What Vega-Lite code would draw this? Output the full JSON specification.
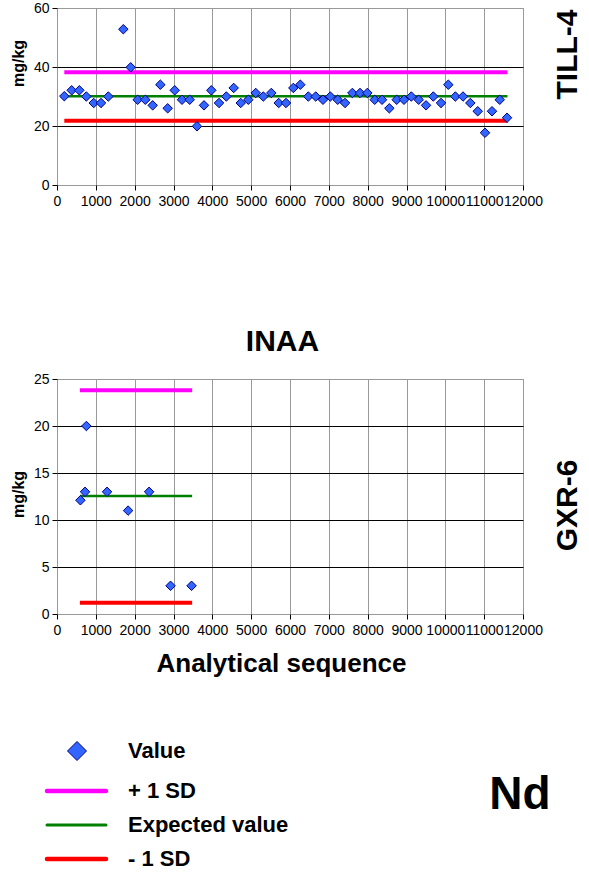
{
  "$schema": "https://vega.github.io/schema/vega-lite/v6.json",
  "padding": {"left": 9, "top": 0, "right": 0, "bottom": 0},
  "background": "white",
  "spacing": 14,
  "config": {
    "font": "Liberation Sans",
    "view": {"stroke": "#999", "strokeWidth": 1},
    "axis": {
      "labelFont": "Liberation Sans", "labelFontSize": 14, "labelColor": "#000",
      "tickColor": "#000", "tickSize": 5, "domain": false,
      "titleFont": "Liberation Sans", "titleFontWeight": "bold", "titleColor": "#000"
    }
  },
  "datasets": {
    "till4": [
      {"x":188,"v":30.1},{"x":378,"v":32.1},{"x":575,"v":32.1},{"x":755,"v":30},{"x":945,"v":27.8},{"x":1133,"v":27.8},{"x":1322,"v":30},{"x":1708,"v":52.8},{"x":1897,"v":39.9},{"x":2077,"v":28.9},{"x":2274,"v":28.9},{"x":2464,"v":27},{"x":2661,"v":34},{"x":2850,"v":26},{"x":3031,"v":32.1},{"x":3219,"v":28.9},{"x":3417,"v":28.9},{"x":3605,"v":19.9},{"x":3786,"v":27},{"x":3974,"v":32.1},{"x":4172,"v":27.8},{"x":4360,"v":30},{"x":4550,"v":32.9},{"x":4731,"v":27.8},{"x":4927,"v":28.9},{"x":5117,"v":31.2},{"x":5313,"v":30},{"x":5519,"v":31.2},{"x":5709,"v":27.8},{"x":5897,"v":27.8},{"x":6086,"v":32.9},{"x":6266,"v":34},{"x":6472,"v":30},{"x":6662,"v":30},{"x":6850,"v":28.9},{"x":7038,"v":30},{"x":7229,"v":28.9},{"x":7417,"v":27.8},{"x":7606,"v":31.2},{"x":7803,"v":31.2},{"x":7991,"v":31.2},{"x":8182,"v":28.9},{"x":8370,"v":28.9},{"x":8558,"v":26},{"x":8748,"v":28.9},{"x":8936,"v":28.9},{"x":9124,"v":30},{"x":9315,"v":28.9},{"x":9503,"v":27},{"x":9691,"v":30},{"x":9889,"v":27.8},{"x":10077,"v":34},{"x":10258,"v":30},{"x":10456,"v":30},{"x":10644,"v":27.8},{"x":10834,"v":25},{"x":11022,"v":17.7},{"x":11202,"v":25},{"x":11401,"v":28.9},{"x":11589,"v":22.8}
    ],
    "gxr6": [
      {"x":603,"v":12.1},{"x":722,"v":13},{"x":757,"v":20},{"x":1289,"v":13},{"x":1831,"v":11},{"x":2372,"v":13},{"x":2924,"v":3},{"x":3465,"v":3}
    ],
    "lines": [
      {"panel":"TILL-4","series":"+ 1 SD","x":188,"x2":11600,"v":38.2},
      {"panel":"TILL-4","series":"Expected value","x":188,"x2":11600,"v":30.1},
      {"panel":"TILL-4","series":"- 1 SD","x":188,"x2":11600,"v":21.8},
      {"panel":"GXR-6","series":"+ 1 SD","x":590,"x2":3480,"v":23.8},
      {"panel":"GXR-6","series":"Expected value","x":590,"x2":3480,"v":12.55},
      {"panel":"GXR-6","series":"- 1 SD","x":590,"x2":3480,"v":1.2}
    ],
    "legend": [
      {"label":"Value","rank":1,"kind":"point"},
      {"label":"+ 1 SD","rank":2.08,"kind":"line"},
      {"label":"Expected value","rank":3,"kind":"line"},
      {"label":"- 1 SD","rank":3.92,"kind":"line"},
      {"label":"Nd","rank":2.2,"kind":"tag"}
    ]
  },
  "vconcat": [
    {
      "width": 466, "height": 177,
      "encoding": {
        "x": {"field": "x", "type": "quantitative",
          "scale": {"domain": [0, 12000], "nice": false, "zero": false},
          "axis": {"values": [0,1000,2000,3000,4000,5000,6000,7000,8000,9000,10000,11000,12000], "format": "d",
            "grid": true, "gridColor": "#999", "labelOverlap": false, "labelFlush": false, "labelBound": false, "labelPadding": 4,
            "title": "INAA", "titleFontSize": 30, "titleX": 225, "titleY": 156, "titleAlign": "center", "titleBaseline": "middle", "titleAngle": 0}}
      },
      "layer": [
        {
          "data": {"name": "lines"},
          "transform": [{"filter": "datum.panel === 'TILL-4'"}],
          "mark": {"type": "rule", "strokeCap": "butt"},
          "encoding": {
            "x2": {"field": "x2"},
            "y": {"field": "v", "type": "quantitative", "scale": {"domain": [0, 60], "nice": false},
              "axis": {"values": [0,20,40,60], "grid": true,
                "gridColor": {"condition": {"test": "datum.value === 0 || datum.value === 60", "value": "#999"}, "value": "#000"},
                "labelPadding": 3, "title": "mg/kg", "titleFontSize": 16, "titleAngle": 270, "titleX": -39, "titleY": 55, "titleAlign": "center", "titleBaseline": "middle"}},
            "color": {"field": "series", "type": "nominal",
              "scale": {"domain": ["Value","+ 1 SD","Expected value","- 1 SD"], "range": ["#3366ff","#ff00ff","#008000","#ff0000"]}, "legend": null},
            "strokeWidth": {"condition": {"test": "datum.series === 'Expected value'", "value": 2.5}, "value": 4}
          }
        },
        {
          "data": {"name": "till4"},
          "mark": {"type": "point", "shape": "diamond", "filled": true, "size": 90, "fill": "#3366ff", "stroke": "#000080", "strokeWidth": 1, "opacity": 1},
          "encoding": {
            "y": {"field": "v", "type": "quantitative",
              "axis": {"orient": "right", "labels": false, "ticks": false, "domain": false, "grid": false,
                "title": "TILL-4", "titleFontSize": 30, "titleAngle": 270, "titleX": 44, "titleY": 46, "titleAlign": "center", "titleBaseline": "middle"}}
          }
        }
      ],
      "resolve": {"axis": {"y": "independent"}}
    },
    {
      "width": 466, "height": 235,
      "encoding": {
        "x": {"field": "x", "type": "quantitative",
          "scale": {"domain": [0, 12000], "nice": false, "zero": false},
          "axis": {"values": [0,1000,2000,3000,4000,5000,6000,7000,8000,9000,10000,11000,12000], "format": "d",
            "grid": true, "gridColor": "#999", "labelOverlap": false, "labelFlush": false, "labelBound": false, "labelPadding": 4,
            "title": "Analytical sequence", "titleFontSize": 26, "titleX": 224, "titleY": 49, "titleAlign": "center", "titleBaseline": "middle", "titleAngle": 0}}
      },
      "layer": [
        {
          "data": {"name": "lines"},
          "transform": [{"filter": "datum.panel === 'GXR-6'"}],
          "mark": {"type": "rule", "strokeCap": "butt"},
          "encoding": {
            "x2": {"field": "x2"},
            "y": {"field": "v", "type": "quantitative", "scale": {"domain": [0, 25], "nice": false},
              "axis": {"values": [0,5,10,15,20,25], "grid": true,
                "gridColor": {"condition": {"test": "datum.value === 0 || datum.value === 25", "value": "#999"}, "value": "#000"},
                "labelPadding": 3, "title": "mg/kg", "titleFontSize": 16, "titleAngle": 270, "titleX": -39, "titleY": 115, "titleAlign": "center", "titleBaseline": "middle"}},
            "color": {"field": "series", "type": "nominal",
              "scale": {"domain": ["Value","+ 1 SD","Expected value","- 1 SD"], "range": ["#3366ff","#ff00ff","#008000","#ff0000"]}, "legend": null},
            "strokeWidth": {"condition": {"test": "datum.series === 'Expected value'", "value": 2.5}, "value": 4}
          }
        },
        {
          "data": {"name": "gxr6"},
          "mark": {"type": "point", "shape": "diamond", "filled": true, "size": 90, "fill": "#3366ff", "stroke": "#000080", "strokeWidth": 1, "opacity": 1},
          "encoding": {
            "y": {"field": "v", "type": "quantitative",
              "axis": {"orient": "right", "labels": false, "ticks": false, "domain": false, "grid": false,
                "title": "GXR-6", "titleFontSize": 30, "titleAngle": 270, "titleX": 44, "titleY": 126, "titleAlign": "center", "titleBaseline": "middle"}}
          }
        }
      ],
      "resolve": {"axis": {"y": "independent"}}
    },
    {
      "width": 466, "height": 180,
      "view": {"stroke": null},
      "data": {"name": "legend"},
      "encoding": {
        "y": {"field": "rank", "type": "quantitative", "scale": {"domain": [-0.622, 4.243], "reverse": true, "nice": false, "zero": false}, "axis": null}
      },
      "layer": [
        {
          "transform": [{"filter": "datum.kind === 'line'"}],
          "mark": {"type": "rule", "strokeCap": "round"},
          "encoding": {
            "x": {"datum": -10, "type": "quantitative", "scale": {"domain": [0, 466], "nice": false, "zero": false}, "axis": null},
            "x2": {"datum": 49},
            "color": {"field": "label", "type": "nominal",
              "scale": {"domain": ["Value","+ 1 SD","Expected value","- 1 SD"], "range": ["#3366ff","#ff00ff","#008000","#ff0000"]}, "legend": null},
            "strokeWidth": {"condition": {"test": "datum.label === 'Expected value'", "value": 3}, "value": 4.5}
          }
        },
        {
          "transform": [{"filter": "datum.kind === 'point'"}],
          "mark": {"type": "point", "shape": "diamond", "filled": true, "size": 361, "fill": "#3366ff", "stroke": "#000080", "strokeWidth": 1, "opacity": 1},
          "encoding": {"x": {"datum": 20, "type": "quantitative"}}
        },
        {
          "transform": [{"filter": "datum.kind !== 'tag'"}],
          "mark": {"type": "text", "align": "left", "baseline": "middle", "fontSize": 22, "fontWeight": "bold", "font": "Liberation Sans", "color": "#000"},
          "encoding": {"x": {"datum": 71, "type": "quantitative"}, "text": {"field": "label"}}
        },
        {
          "transform": [{"filter": "datum.kind === 'tag'"}],
          "mark": {"type": "text", "align": "center", "baseline": "middle", "fontSize": 46, "fontWeight": "bold", "font": "Liberation Sans", "color": "#000"},
          "encoding": {"x": {"datum": 463, "type": "quantitative"}, "text": {"field": "label"}}
        }
      ]
    }
  ]
}
